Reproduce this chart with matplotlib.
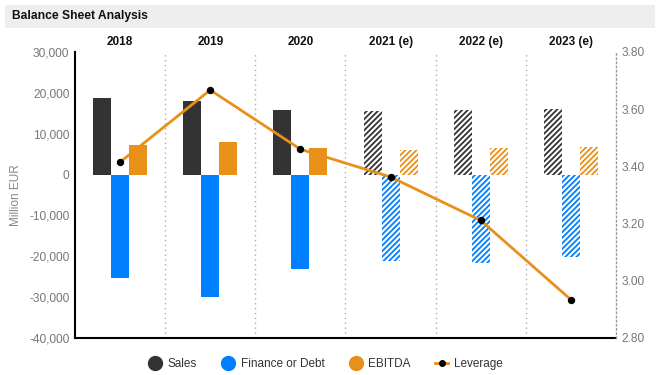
import matplotlib
matplotlib.use("Agg")
import matplotlib.pyplot as plt
from matplotlib.lines import Line2D
from matplotlib.patches import Rectangle
import numpy as np

plt.rcParams['font.family'] = ['Liberation Sans', 'DejaVu Sans']
plt.rcParams['hatch.linewidth'] = 1.3

years = ["2018", "2019", "2020", "2021 (e)", "2022 (e)", "2023 (e)"]
estimate = [False, False, False, True, True, True]
sales = [18800, 18050, 15850, 15600, 15850, 16100]
finance = [-25400, -29900, -23200, -21100, -21600, -20200]
ebitda = [7300, 8050, 6600, 6100, 6600, 6800]
leverage = [3.415, 3.667, 3.46, 3.363, 3.211, 2.934]

c_sales = "#333333"
c_fin = "#0080ff"
c_ebitda = "#e8901a"
c_line = "#e8901a"

fig = plt.figure(figsize=(6.65, 3.75), dpi=100)
fig.patches.append(Rectangle((5/665, 1-28/375), 650/665, 23/375, transform=fig.transFigure,
                             facecolor="#eeeeee", edgecolor="none", zorder=0))
fig.text(12/665, 1-16.5/375, "Balance Sheet Analysis", fontsize=8.7, fontweight="bold",
         color="#111111", va="center", ha="left")

ax = fig.add_axes([75/665, 1-338/375, 541/665, 286/375])
x = np.arange(len(years))
w = 0.2
for series, off, col in [(sales, -w, c_sales), (finance, 0, c_fin), (ebitda, w, c_ebitda)]:
    for i, v in enumerate(series):
        if estimate[i]:
            ax.bar(x[i] + off, v, width=w, facecolor="white", edgecolor=col,
                   hatch="//////", linewidth=0, zorder=2)
        else:
            ax.bar(x[i] + off, v, width=w, color=col, linewidth=0, zorder=2)

ax.set_xlim(-0.5, len(years) - 0.5)
ax.set_ylim(-40000, 30000)
ax.set_yticks(np.arange(-40000, 30001, 10000))
ax.set_yticklabels([f"{int(t):,}" for t in np.arange(-40000, 30001, 10000)])
ax.tick_params(axis='y', length=0, labelsize=8.6, labelcolor="#777777", pad=4)
ax.set_ylabel("Million EUR", fontsize=8.5, color="#888888", labelpad=5)

ax.xaxis.tick_top()
ax.set_xticks(x)
ax.set_xticklabels(years, fontsize=8.5, fontweight="bold", color="#111111")
ax.tick_params(axis='x', length=0, pad=3)

for b in np.arange(0.5, len(years) - 0.5, 1):
    ax.axvline(b, color="#aaaaaa", linestyle=(0, (1, 2.5)), linewidth=1, zorder=1)

ax.spines['top'].set_visible(False)
ax.spines['right'].set_visible(False)
ax.spines['left'].set_linewidth(1.5)
ax.spines['bottom'].set_linewidth(1.5)
ax.spines['left'].set_color("black")
ax.spines['bottom'].set_color("black")

ax2 = ax.twinx()
ax2.plot(x, leverage, color=c_line, linewidth=2, marker="o", markersize=4.3,
         markerfacecolor="black", markeredgecolor="black", zorder=5)
ax2.set_ylim(2.8, 3.8)
ax2.set_yticks(np.arange(2.8, 3.81, 0.2))
ax2.set_yticklabels([f"{t:.2f}" for t in np.arange(2.8, 3.81, 0.2)])
ax2.tick_params(axis='y', length=0, labelsize=8.6, labelcolor="#777777", pad=4)
for s in ['top', 'left', 'bottom']:
    ax2.spines[s].set_visible(False)
ax2.spines['right'].set_linestyle((0, (1, 2)))
ax2.spines['right'].set_color("#999999")
ax2.spines['right'].set_linewidth(1)

handles = [
    Line2D([], [], linestyle="none", marker="o", markersize=10, color=c_sales),
    Line2D([], [], linestyle="none", marker="o", markersize=10, color=c_fin),
    Line2D([], [], linestyle="none", marker="o", markersize=10, color=c_ebitda),
    Line2D([], [], color=c_line, linewidth=2, marker="o", markersize=4,
           markerfacecolor="black", markeredgecolor="black"),
]
fig.legend(handles, ["Sales", "Finance or Debt", "EBITDA", "Leverage"], loc="center",
           bbox_to_anchor=(326/665, 1-364/375), ncol=4, frameon=False, fontsize=8.5,
           labelcolor="#333333", handlelength=1.1, handletextpad=0.5, columnspacing=2.1)

fig.savefig("out.png", dpi=100)
